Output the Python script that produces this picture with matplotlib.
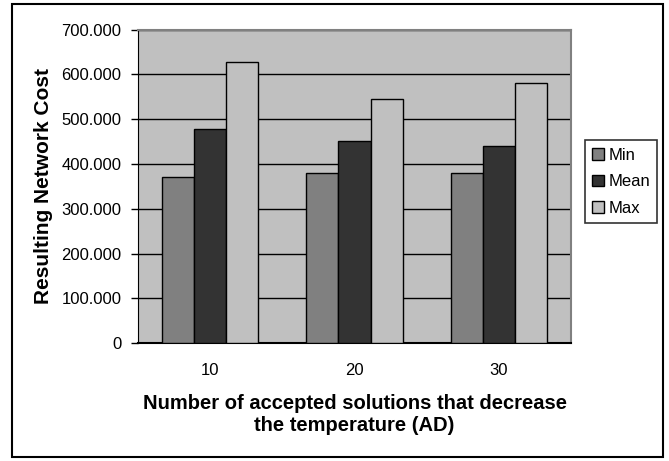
import matplotlib
matplotlib.use("Agg")
import matplotlib.pyplot as plt
import numpy as np
from matplotlib.patches import Rectangle

plt.rcParams['font.family'] = ['Liberation Sans', 'DejaVu Sans']

# data
categories = ["10", "20", "30"]
min_cost = [370, 381, 381]
mean_cost = [478, 452, 441]
max_cost = [627, 545, 581]
series_names = ["Min", "Mean", "Max"]
series_colors = ["#808080", "#333333", "#c0c0c0"]
yticks = [0, 100, 200, 300, 400, 500, 600, 700]
ytick_labels = ["0", "100.000", "200.000", "300.000", "400.000",
                "500.000", "600.000", "700.000"]

fig = plt.figure(figsize=(6.69, 4.61), dpi=100)
ax = fig.add_axes([0.2063, 0.2553, 0.6472, 0.6807])
ax.set_facecolor("#c0c0c0")

x = np.arange(len(categories))
width = 0.2222
for i, (vals, name, col) in enumerate(zip([min_cost, mean_cost, max_cost],
                                          series_names, series_colors)):
    ax.bar(x + (i - 1) * width, vals, width, color=col, edgecolor="black",
           linewidth=1.0, label=name, zorder=3)

ax.set_xlim(-0.5, len(categories) - 0.5)
ax.set_ylim(0, 700)
ax.set_yticks(yticks)
ax.set_yticklabels(ytick_labels, fontsize=12)
ax.set_xticks(x)
ax.set_xticklabels(categories, fontsize=12)
ax.tick_params(axis="x", length=0, pad=14)
ax.tick_params(axis="y", length=5, width=1, direction="out", pad=7)
ax.yaxis.grid(True, color="black", linewidth=1, zorder=0)
ax.set_axisbelow(True)

for side in ["top", "right"]:
    ax.spines[side].set_color("#808080")
    ax.spines[side].set_linewidth(1.5)
ax.spines["left"].set_color("black")
ax.spines["bottom"].set_color("black")
ax.spines["bottom"].set_linewidth(1.5)

ax.set_ylabel("Resulting Network Cost", fontsize=15, fontweight="bold", labelpad=6)
ax.set_xlabel("Number of accepted solutions that decrease\nthe temperature (AD)",
              fontsize=14.5, fontweight="bold", labelpad=12, linespacing=1.2)

leg = ax.legend(loc="center left", bbox_to_anchor=(1.032, 0.515), fontsize=12,
                frameon=True, fancybox=False, handlelength=0.7, handleheight=0.7,
                handletextpad=0.25, borderpad=0.45, labelspacing=0.7,
                borderaxespad=0)
leg.get_frame().set_edgecolor("black")
leg.get_frame().set_linewidth(1.2)

# outer chart border
fig.patches.append(Rectangle((12 / 669, 4 / 461), 651 / 669, 453 / 461,
                             transform=fig.transFigure, fill=False,
                             edgecolor="black", linewidth=1.5))

fig.savefig("out.png", dpi=100)
